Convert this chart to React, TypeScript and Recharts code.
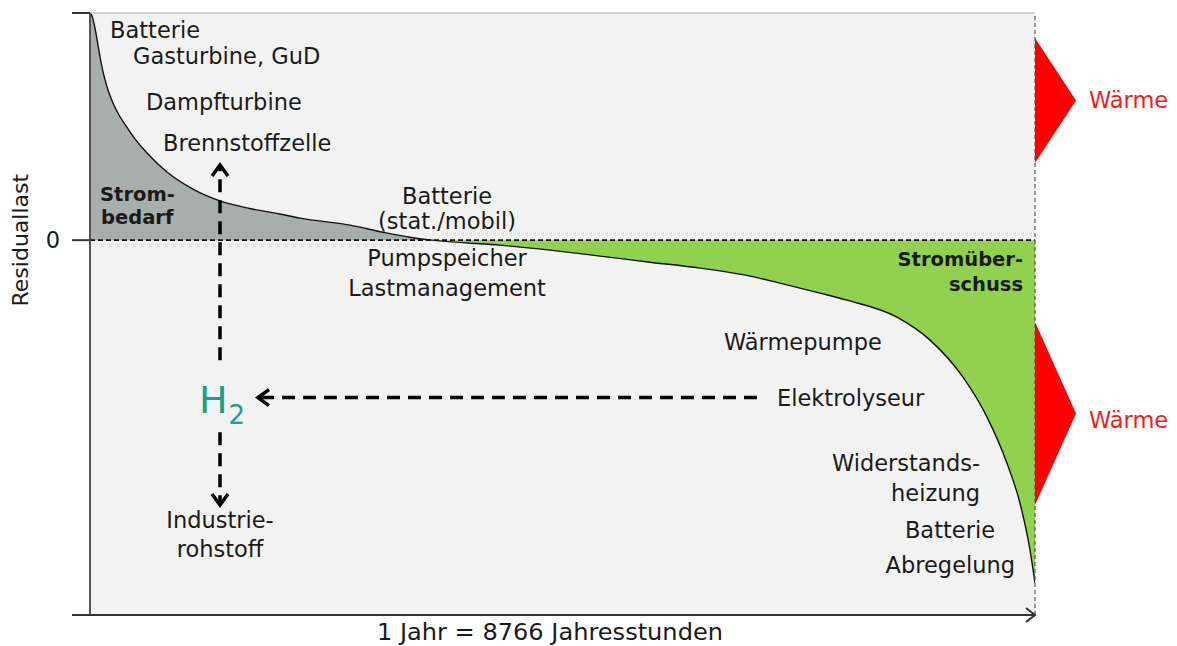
import {
  ComposedChart,
  Area,
  Line,
  XAxis,
  YAxis,
  CartesianGrid,
  ReferenceLine,
  ReferenceDot,
} from "recharts";

// Residual load duration curve (hours of the year sorted by residual load)
const hours = [
  0, 19, 46, 74, 102, 130, 167, 213, 269, 334, 417, 529, 714, 955, 1206, 1456,
  1762, 1948, 2412, 2718, 2968, 3172, 3803, 4267, 4731, 5195, 5659, 6122, 6400,
  6771, 7022, 7486, 7792, 8098, 8321, 8506, 8627, 8720, 8766,
];
const residualLoad = [
  100, 98.7, 93.4, 85.9, 78.4, 72.3, 66.1, 60.4, 55.1, 50.3, 44.6, 38.4, 30.0,
  22.5, 17.3, 14.2, 11.5, 9.7, 6.6, 3.5, 1.3, 0, -2.2, -4.4, -7.0, -9.7, -12.3,
  -15.8, -18.9, -23.3, -26.4, -33.9, -44.0, -60.3, -77.9, -98.2, -115.8, -136.5,
  -151.0,
];

const HOURS_PER_YEAR = 8766;
const yTicks = [-165, 0, 100];

const xLabel = "1 Jahr = 8766 Jahresstunden";
const yLabel = "Residuallast";
const heatLabel = "Wärme";

type Anchor = "start" | "middle" | "end";
type Kind = "normal" | "bold" | "red";

interface Note {
  h: number;
  v: number;
  text: string;
  anchor: Anchor;
  kind: Kind;
}

// technology labels placed in chart units (hours, residual load)
const notes: Note[] = [
  { h: 186, v: 92.5, text: "Batterie", anchor: "start", kind: "normal" },
  { h: 399, v: 81.1, text: "Gasturbine, GuD", anchor: "start", kind: "normal" },
  { h: 519, v: 60.8, text: "Dampfturbine", anchor: "start", kind: "normal" },
  { h: 677, v: 42.8, text: "Brennstoffzelle", anchor: "start", kind: "normal" },
  { h: 93, v: 20.2, text: "Strom-", anchor: "start", kind: "bold" },
  { h: 102, v: 10.0, text: "bedarf", anchor: "start", kind: "bold" },
  { h: 3312, v: 19.5, text: "Batterie", anchor: "middle", kind: "normal" },
  { h: 3312, v: 8.4, text: "(stat./mobil)", anchor: "middle", kind: "normal" },
  { h: 3312, v: -7.8, text: "Pumpspeicher", anchor: "middle", kind: "normal" },
  { h: 3312, v: -21.0, text: "Lastmanagement", anchor: "middle", kind: "normal" },
  { h: 8655, v: -8.7, text: "Stromüber-", anchor: "end", kind: "bold" },
  { h: 8655, v: -19.7, text: "schuss", anchor: "end", kind: "bold" },
  { h: 5881, v: -44.8, text: "Wärmepumpe", anchor: "start", kind: "normal" },
  { h: 6373, v: -69.4, text: "Elektrolyseur", anchor: "start", kind: "normal" },
  { h: 8256, v: -98.1, text: "Widerstands-", anchor: "end", kind: "normal" },
  { h: 8256, v: -111.3, text: "heizung", anchor: "end", kind: "normal" },
  { h: 8395, v: -127.6, text: "Batterie", anchor: "end", kind: "normal" },
  { h: 8581, v: -143.0, text: "Abregelung", anchor: "end", kind: "normal" },
  { h: 1206, v: -123.2, text: "Industrie-", anchor: "middle", kind: "normal" },
  { h: 1206, v: -135.9, text: "rohstoff", anchor: "middle", kind: "normal" },
  { h: 9267, v: 61.7, text: heatLabel, anchor: "start", kind: "red" },
  { h: 9267, v: -79.1, text: heatLabel, anchor: "start", kind: "red" },
];

// H2 flows: [from, to] in chart units
const h2Arrows = [
  [{ x: 1206, y: -52.9 }, { x: 1206, y: 33.1 }],
  [{ x: 1206, y: -84.6 }, { x: 1206, y: -116.6 }],
  [{ x: 6187, y: -69.3 }, { x: 1558, y: -69.3 }],
];
const h2Pos = { h: 1011, v: -76.1 };

// heat output wedges on the right edge: [top, bottom]
const heatWedges = [
  [89.0, 34.0],
  [-36.0, -116.6],
];

const FONT = "'DejaVu Sans', sans-serif";
const TEXT = "#1a1a1a";

const chartData = hours.map((h, i) => ({
  h,
  v: residualLoad[i],
  demand: Math.max(residualLoad[i], 0),
  surplus: Math.min(residualLoad[i], 0),
}));

const noteShape = (n: Note) => (props: any) => {
  const bold = n.kind === "bold";
  return (
    <text
      x={props.cx}
      y={props.cy}
      textAnchor={n.anchor}
      dominantBaseline="central"
      fontFamily={FONT}
      fontSize={bold ? 19.5 : 22.5}
      fontWeight={bold ? 700 : 400}
      fill={n.kind === "red" ? "#f01e1e" : TEXT}
    >
      {n.text}
    </text>
  );
};

const arrowShape = (props: any) => {
  const { x1, y1, x2, y2 } = props;
  const len = Math.hypot(x2 - x1, y2 - y1) || 1;
  const ux = (x2 - x1) / len;
  const uy = (y2 - y1) / len;
  const px = -uy;
  const py = ux;
  const head = 11;
  const half = 8;
  return (
    <g>
      <line
        x1={x1}
        y1={y1}
        x2={x2 - ux * 3}
        y2={y2 - uy * 3}
        stroke="#000"
        strokeWidth={3.5}
        strokeDasharray="13 8"
      />
      <polyline
        points={`${x2 - ux * head + px * half},${y2 - uy * head + py * half} ${x2},${y2} ${x2 - ux * head - px * half},${y2 - uy * head - py * half}`}
        fill="none"
        stroke="#000"
        strokeWidth={3.5}
      />
    </g>
  );
};

const wedgeShape = (props: any) => {
  const { x1, y1, x2, y2 } = props;
  const tipX = x1 + 41;
  const tipY = (y1 + y2) / 2;
  return <polygon points={`${x1},${y1} ${tipX},${tipY} ${x2},${y2}`} fill="#ff0000" />;
};

const App = () => {
  return (
    <div
      style={{
        position: "absolute",
        left: 0,
        top: 0,
        width: 1177,
        height: 646,
        background: "#fff",
      }}
    >
      <ComposedChart
        width={1177}
        height={646}
        data={chartData}
        margin={{ top: 13, right: 142, bottom: 30, left: 0 }}
      >
        <CartesianGrid fill="#f2f2f2" horizontal={false} vertical={false} />
        <XAxis
          type="number"
          dataKey="h"
          domain={[0, HOURS_PER_YEAR]}
          allowDataOverflow
          tick={false}
          tickLine={false}
          height={1}
          axisLine={{ stroke: "#333", strokeWidth: 2 }}
        />
        <YAxis
          type="number"
          domain={[-165, 100]}
          allowDataOverflow
          ticks={yTicks}
          interval={0}
          width={90}
          tickSize={18}
          tickMargin={12}
          tickFormatter={(v: number) => (v === 0 ? "0" : "")}
          tick={{ fontSize: 22.5, fill: TEXT, fontFamily: FONT }}
          tickLine={{ stroke: "#333", strokeWidth: 2 }}
          axisLine={{ stroke: "#555", strokeWidth: 2 }}
        />
        <Area
          type="monotone"
          dataKey="demand"
          baseValue={0}
          fill="#a8aeab"
          fillOpacity={1}
          stroke="none"
          isAnimationActive={false}
        />
        <Area
          type="monotone"
          dataKey="surplus"
          baseValue={0}
          fill="#92d050"
          fillOpacity={1}
          stroke="none"
          isAnimationActive={false}
        />
        <Line
          type="monotone"
          dataKey="v"
          stroke="#111"
          strokeWidth={1.4}
          dot={false}
          isAnimationActive={false}
        />
        <ReferenceLine y={100} stroke="#c6c6c6" strokeWidth={1.5} />
        <ReferenceLine y={0} stroke="#111" strokeWidth={1.6} strokeDasharray="5 3" />
        <ReferenceLine
          x={HOURS_PER_YEAR}
          stroke="#555"
          strokeWidth={1.2}
          strokeDasharray="4 3"
        />
        {heatWedges.map(([top, bottom], i) => (
          <ReferenceLine
            key={`wedge-${i}`}
            segment={[
              { x: HOURS_PER_YEAR, y: top },
              { x: HOURS_PER_YEAR, y: bottom },
            ]}
            ifOverflow="visible"
            shape={wedgeShape}
          />
        ))}
        {h2Arrows.map((seg, i) => (
          <ReferenceLine
            key={`arrow-${i}`}
            segment={seg}
            ifOverflow="visible"
            shape={arrowShape}
          />
        ))}
        <ReferenceDot
          x={h2Pos.h}
          y={h2Pos.v}
          r={0}
          ifOverflow="visible"
          shape={(p: any) => (
            <text x={p.cx} y={p.cy} fontFamily={FONT} fill="#1a9e84">
              <tspan fontSize={38}>H</tspan>
              <tspan fontSize={26} dy={11} dx={1}>
                2
              </tspan>
            </text>
          )}
        />
        {notes.map((n, i) => (
          <ReferenceDot
            key={`note-${i}`}
            x={n.h}
            y={n.v}
            r={0}
            ifOverflow="visible"
            shape={noteShape(n)}
          />
        ))}
        {/* axis titles and x-axis arrowhead */}
        <ReferenceDot
          x={0}
          y={0}
          r={0}
          ifOverflow="visible"
          shape={(p: any) => (
            <text
              x={p.cx - 69}
              y={p.cy}
              transform={`rotate(-90 ${p.cx - 69} ${p.cy})`}
              textAnchor="middle"
              dominantBaseline="central"
              fontFamily={FONT}
              fontSize={22}
              fill={TEXT}
            >
              {yLabel}
            </text>
          )}
        />
        <ReferenceDot
          x={4267}
          y={-165}
          r={0}
          ifOverflow="visible"
          shape={(p: any) => (
            <text
              x={p.cx}
              y={p.cy + 17}
              textAnchor="middle"
              dominantBaseline="central"
              fontFamily={FONT}
              fontSize={22.5}
              textLength={346}
              lengthAdjust="spacingAndGlyphs"
              fill={TEXT}
            >
              {xLabel}
            </text>
          )}
        />
        <ReferenceDot
          x={HOURS_PER_YEAR}
          y={-165}
          r={0}
          ifOverflow="visible"
          shape={(p: any) => (
            <polyline
              points={`${p.cx - 9},${p.cy - 7} ${p.cx},${p.cy} ${p.cx - 9},${p.cy + 7}`}
              fill="none"
              stroke="#333"
              strokeWidth={2}
            />
          )}
        />
      </ComposedChart>
    </div>
  );
};

export default App;
